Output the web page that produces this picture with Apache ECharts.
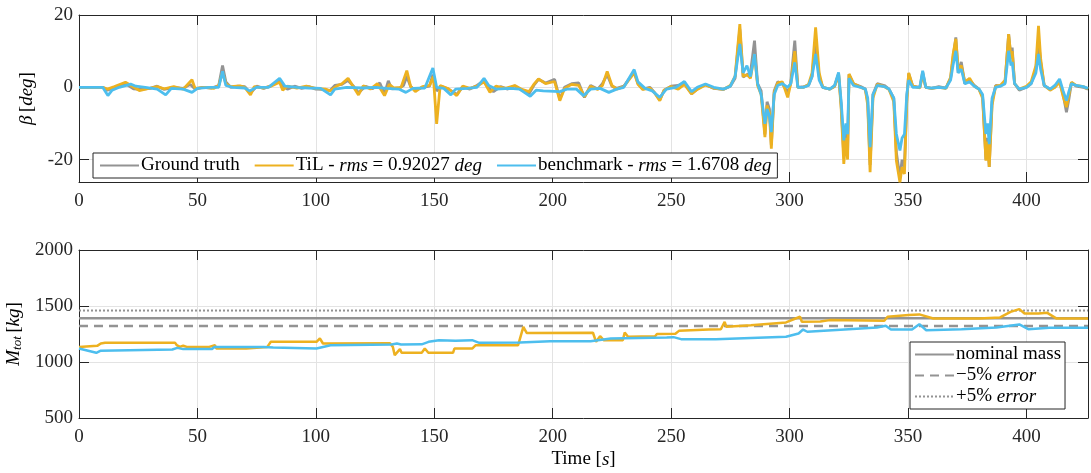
<!DOCTYPE html>
<html>
<head>
<meta charset="utf-8">
<script src="https://cdn.jsdelivr.net/npm/echarts@6/dist/echarts.min.js"></script>
<style>
html, body { margin: 0; padding: 0; background: #fff; }
#main { width: 1091px; height: 473px; }
</style>
</head>
<body>
<div id="main"></div>
<script>
// sideslip angle beta [deg] vs time [s]
var betaTruth = [[0,0],[10,0],[12,-0.8],[14,-0.3],[17,0.4],[20,0.8],[23,-0.4],[26,-0.6],[30,-0.3],[33,0.3],[36,-0.6],[40,0],[44,-0.3],[47,0.8],[49,-0.5],[52,0],[56,-0.2],[59,0.5],[60.6,6.0],[62,1.5],[64,0],[67,0.3],[70,0.2],[72.4,-1.6],[75,0.3],[78,-0.3],[81,0.4],[84.7,2.0],[86,0.5],[88,-0.5],[91,0.3],[94,-0.3],[97,0.2],[100,-0.5],[103,-0.6],[106,-0.9],[108,0.5],[111,0.8],[113.6,1.9],[116,0.2],[118,-1.5],[121,0.3],[124,-0.4],[127,1.2],[129,-1.8],[130.6,1.8],[132,-0.4],[135,-0.3],[137,0.5],[138.4,3.0],[140,0.2],[142,-0.8],[145,0],[148,0.3],[149.4,3.5],[151,-1.0],[153,0.3],[156,-0.5],[159.5,-2.0],[162,0.2],[165,-0.5],[168,0.5],[171,1.8],[173,-0.2],[175,-1.2],[178,0.2],[181,-0.5],[184,0.4],[187,-0.8],[190,-1.8],[192,0.5],[194,2.2],[197,1.2],[200.8,2.2],[203,-3.3],[205,0],[208,1.0],[211,1.2],[213.4,-2.8],[216,0.5],[219,-0.5],[221,1.0],[223,3.5],[225,0.3],[227,-0.3],[230,0.3],[234.4,4.3],[236,1],[238,-0.5],[241,0],[243,-1.5],[245.2,-3.5],[247,-0.8],[250,0.3],[253,0.5],[255.6,1.3],[258.6,-1.8],[261,-0.5],[264.5,0.8],[268,-0.3],[272,-0.6],[275,0.3],[277,2.5],[279,16],[280.4,2.8],[282,3.5],[283.5,4],[285.2,12.9],[286.5,1],[288,-1],[289.6,-13],[290.5,-4],[291.5,-6],[292.3,-16],[293.5,-1],[295,1.5],[297,1],[299.2,-1.5],[300.5,1.2],[302.2,12.9],[303.5,0],[306,0.2],[308,0.5],[309.5,3],[311,12.9],[312.5,3],[314,0],[317,-0.5],[319,0.2],[320.7,3.8],[321.8,-5],[322.9,-19],[323.8,-12],[324.5,-18],[325.1,3.5],[327,1],[330,0.2],[332,-0.5],[333,-4],[334,-21.5],[335.2,-2],[337,1],[340,0.5],[342,-0.5],[344,-3],[345.1,-18],[346.6,-25],[347.5,-20],[348.5,-22],[349.5,-3],[350.3,3.8],[352,0.3],[355,0],[356.2,4.2],[357.5,0],[360,-0.3],[363,0.2],[366,-0.2],[368,2.5],[369,8],[370.2,13.8],[371.2,4],[372.5,7],[374,1],[376,2],[378,0.5],[380,-0.5],[381.5,-2.5],[382.9,-20],[383.6,-14],[384.3,-22],[385.5,-4],[387,0.5],[389,0.3],[391,1.5],[392.5,14.7],[393.5,8],[394,11],[395,1],[397,-0.8],[400,0],[402,1],[404,5],[405.1,13],[406,7],[407.5,0.5],[410,-0.5],[412,0],[414,1.8],[415.5,-2],[416.9,-6.9],[418,-3],[419,1.2],[421,0.3],[424,0],[426,-0.5]];

var betaTil = [[0,0],[10,0],[12,-0.5],[15,0.2],[19.6,1.4],[22,0.5],[25.5,-0.9],[29,-0.4],[33,0.2],[36,-0.4],[40,0.2],[44,-0.5],[47.7,2.1],[49,-0.3],[53,0],[57,-0.3],[59,0.5],[60.6,4.1],[62,1],[64,0.2],[68,0.4],[70,0],[72.4,-2.1],[74,0.2],[78,-0.2],[81,0.3],[84.7,1.4],[86,-0.8],[88,0.3],[92,-0.2],[96,0.3],[100,-0.3],[104,-0.5],[106,-1],[109,0.4],[111,1],[113.6,2.5],[115.5,0.5],[118,-2.1],[120,0.4],[123,-0.5],[126,1],[129,-2.3],[131,0.8],[133,-0.2],[136,0],[138.4,4.6],[140,0.3],[142,-1.2],[145,0.2],[148,0.5],[149.6,3],[151,-10.1],[152.5,0.5],[156,-0.4],[159.5,-2.3],[162,0.3],[165,-0.3],[168,0.3],[171,1.5],[173.5,-1.4],[176,0.3],[180,-0.3],[184,0.5],[187,-0.6],[190,-1.2],[192,0.8],[194,2.3],[197,1.0],[200.8,1.6],[203,-3.7],[205,-0.3],[208,0.8],[211,0.5],[213.4,-2.6],[216,0.3],[219,-0.6],[221,0.5],[223,4.4],[225,0.5],[227,-0.5],[230,0.2],[234.4,4.0],[236,0.8],[238,-0.6],[241,-0.2],[243,-1.5],[245.2,-3.7],[247,-0.8],[250,0.2],[253,-0.5],[255.6,0.8],[258.6,-1.8],[261,-0.6],[264.5,0.6],[268,-0.2],[272,-0.6],[275,0.5],[277,3],[279,17.5],[280.4,3],[282,3.5],[283.5,2.5],[285.2,9.2],[286.5,0.5],[288,-2],[289.6,-13.8],[290.5,-5],[291.5,-7],[292.3,-17],[293.5,-1.5],[295,1.2],[297,1.5],[299.2,-2.8],[300.5,1],[302.2,10],[303.5,0],[306,0],[308,0.8],[309.5,4],[311,16.6],[312.5,4],[314,0],[317,-0.5],[319,0.3],[320.7,3.7],[321.8,-6],[322.9,-21.2],[323.8,-14],[324.5,-20],[325.1,3.7],[327,1],[330,0],[332,-0.6],[333,-5],[334,-23.5],[335.2,-3],[337,0.8],[340,0.2],[342,-0.6],[344,-4],[345.1,-20.3],[346.6,-26.3],[347.5,-22],[348.5,-24],[349.5,-4],[350.3,4],[352,0.3],[355,-0.2],[356.2,3.5],[357.5,0],[360,-0.3],[363,0],[366,-0.3],[368,2.8],[369,9],[370.2,13.4],[371.2,5],[372.5,6],[374,1.5],[376,2.5],[378,0.3],[380,-0.6],[381.5,-3],[382.9,-20.3],[383.6,-15],[384.3,-22],[385.5,-5],[387,0.3],[389,0.5],[391,2],[392.5,14.7],[393.5,8],[394,10],[395,1],[397,-0.5],[400,0.3],[402,1.5],[404,6],[405.1,17],[406,8],[407.5,0.5],[410,-0.8],[412,0],[414,1.4],[415.5,-2.5],[416.9,-5.5],[418,-2],[419,1.4],[421,0.5],[424,0.2],[426,-0.5]];

var betaBench = [[0,0],[10,0],[12.2,-2.3],[14,-0.8],[17,0],[21.8,0.9],[24,0.3],[28,0],[33,-0.5],[36.6,-2.1],[39,-0.3],[44,-0.5],[47.7,-1.4],[50,-0.3],[55,0],[59,0],[60.6,4.4],[62,0.5],[65,0],[70,-0.2],[72,-1],[75,0],[80,0],[84.7,2.5],[87,0.3],[92,0],[97,-0.2],[102,-0.3],[106.2,-2.1],[108,-0.5],[113,0],[120,-0.2],[125,0],[130,-0.3],[135,-0.5],[138,-1.4],[141,-0.3],[146,-0.2],[149.4,5.3],[151,0],[154,-0.3],[157,-2.1],[159,-0.5],[164,-0.3],[168,0],[171,2.5],[173,0.5],[176,-0.5],[182,-0.3],[186,-0.5],[190.5,-2.5],[193,-0.8],[196,-1],[203,-1.2],[206,-0.5],[210,-0.5],[213,-2.3],[216,-0.5],[220,-0.3],[223.7,-1.4],[227,-0.5],[230,0],[234.4,4.9],[236,1.5],[239,-0.3],[242,-1],[245.2,-2.8],[248,-0.5],[252,0],[255.6,1.6],[258.6,-1.2],[261,0],[264.5,0.9],[268,0],[272,-0.5],[275,0.3],[277,3],[279,12],[280.4,4],[282,6],[283.5,3],[285.2,9.2],[286.5,1],[288,-2],[289.6,-10.1],[290.5,-6],[291.5,-8],[292.3,-12.4],[293.5,-2],[295,0.5],[297,1],[299.2,0],[300.5,1],[302.2,6.9],[303.5,0],[306,0],[308,0.5],[309.5,3],[311,9.2],[312.5,2],[314,0],[317,-0.5],[319,0.5],[320.7,4.1],[321.8,-4],[322.9,-14.7],[323.8,-10],[324.5,-13],[325.1,2.5],[327,0.5],[330,0],[332,-0.5],[333,-3],[334,-16.6],[335.2,-2],[337,0.5],[340,0.2],[342,-0.5],[344,-3],[345.1,-12.9],[346.6,-17.5],[347.5,-14],[348.5,-13],[349.5,-2],[350.3,2],[352,0],[355,0],[356.2,4.6],[357.5,0],[360,-0.2],[363,0],[366,-0.2],[368,2],[369,6],[370.2,10.1],[371.2,4],[372.5,5],[374,1],[376,1.5],[378,0.3],[380,-0.5],[381.5,-2],[382.9,-12.9],[383.6,-10],[384.3,-15.7],[385.5,-3],[387,0],[389,0.3],[391,1],[392.5,10.1],[393.5,6],[394,7],[395,1],[397,-0.5],[400,0],[402,1],[404,4],[405.1,9.2],[406,5],[407.5,0.5],[410,-0.5],[412,0.5],[414,2.3],[415.5,-1],[416.9,-3.7],[418,-1],[419,1],[421,0.5],[424,0.2],[426,-0.3]];

// total mass estimate [kg] vs time [s]
var massTil = [[0,1135],[7.7,1144],[9.2,1165],[11,1171],[40.6,1171],[41.3,1150],[42.5,1135],[44,1145],[45.5,1135],[55,1135],[57.4,1150],[58,1120],[70.6,1120],[71,1135],[79.5,1135],[81,1180],[100.3,1180],[101.7,1210],[103,1165],[131.3,1168],[132.5,1135],[133.3,1061],[135.5,1115],[136.2,1082],[144.7,1082],[146,1120],[147.5,1082],[157.9,1082],[158.5,1120],[166,1120],[167.5,1150],[185.4,1150],[187.6,1314],[189,1260],[217,1261],[218.3,1180],[220,1231],[221.5,1195],[229.6,1195],[230.4,1264],[231.8,1225],[243.2,1230],[244,1249],[251.8,1252],[253.3,1278],[265.9,1290],[271,1292],[272.6,1359],[273.3,1314],[283.7,1329],[298.5,1353],[304.4,1404],[305.2,1359],[313,1362],[316.9,1374],[317.6,1359],[340,1368],[341.4,1404],[350.3,1419],[354.8,1425],[360.7,1389],[380,1389],[388.9,1398],[393.3,1448],[397,1472],[399.2,1433],[405.1,1433],[408.8,1439],[412.6,1389],[426,1389]];

var massBench = [[0,1120],[7.3,1082],[9,1100],[39.4,1112],[41.5,1126],[44,1115],[56,1115],[57.3,1135],[78,1135],[82,1130],[100.3,1120],[106.2,1150],[132,1156],[134.2,1165],[136,1156],[144.7,1158],[147.6,1180],[152,1195],[159,1190],[166,1195],[169,1171],[186.1,1174],[199,1186],[216,1186],[224.5,1210],[248.1,1219],[251,1222],[254.2,1204],[268.9,1204],[298.5,1225],[303.8,1255],[305.7,1290],[307.5,1270],[325,1293],[336.9,1308],[340.6,1323],[342.8,1290],[351.7,1290],[354.8,1338],[357.7,1284],[372.6,1293],[387.4,1308],[397,1335],[400.8,1293],[409.7,1305],[426,1305]];

var massNominal = 1390;
var massMinus5 = 1320.5;
var massPlus5 = 1459.5;
var timeEnd = 426;
var betaTicks = [-20, 0, 20];

var FONT = 'Liberation Serif';
var AX = '#262626';
var GRIDC = '#e3e3e3';
var GRAY = '#939393';
var ORANGE = '#EDB120';
var BLUE = '#4DBEEE';

var Chart = echarts.init(document.getElementById('main'));

function hLine(v) { return [[0, v], [timeEnd, v]]; }

var rich = {
    n: { fontFamily: FONT, fontSize: 19, color: '#000' },
    i: { fontFamily: FONT, fontSize: 19, fontStyle: 'italic', color: '#000' },
    s: { fontFamily: FONT, fontSize: 13, fontStyle: 'italic', color: '#000', verticalAlign: 'bottom', padding: [8, 0, 0, 0] }
};

var legendText = {
    'Ground truth': '{n|Ground truth}',
    'TiL': '{n|TiL - }{i|rms}{n| = 0.92027 }{i|deg}',
    'benchmark': '{n|benchmark - }{i|rms}{n| = 1.6708 }{i|deg}',
    'nominal mass': '{n|nominal mass}',
    'minus': '{n|\u22125% }{i|error}',
    'plus': '{n|+5% }{i|error}'
};

function xAx(grid, name) {
    return {
        type: 'value', gridIndex: grid, min: 0, max: timeEnd, interval: 50,
        name: name || '', nameLocation: 'middle', nameGap: 32,
        nameTextStyle: { rich: rich },
        axisLine: { onZero: false, lineStyle: { color: AX, width: 1 } },
        axisTick: { inside: true, length: 10, lineStyle: { color: AX } },
        axisLabel: { fontFamily: FONT, fontSize: 19, color: '#262626', margin: 10, showMaxLabel: false },
        splitLine: { show: true, lineStyle: { color: GRIDC } }
    };
}
function xTop(grid) {
    return {
        type: 'value', gridIndex: grid, min: 0, max: timeEnd, interval: 50, position: 'top',
        axisLine: { onZero: false, lineStyle: { color: AX } },
        axisTick: { inside: true, length: 10, lineStyle: { color: AX } },
        axisLabel: { show: false }, splitLine: { show: false }
    };
}

var legendBox = {
    itemWidth: 39, itemHeight: 12,
    backgroundColor: '#fff', borderColor: AX, borderWidth: 1, borderRadius: 0,
    itemStyle: { opacity: 0 },
    formatter: function (name) { return legendText[name]; },
    textStyle: { rich: rich, padding: [0, 0, 0, -3] }
};

option = {
    animation: false,
    backgroundColor: '#fff',
    grid: [
        { left: 79, top: 15, width: 1009, height: 167, outerBoundsMode: 'none', containLabel: false },
        { left: 79, top: 250, width: 1009, height: 168, outerBoundsMode: 'none', containLabel: false }
    ],
    xAxis: [xAx(0), xTop(0), xAx(1, '{n|Time [}{i|s}{n|]}'), xTop(1)],
    yAxis: [
        {
            type: 'value', gridIndex: 0, min: -26.2, max: 20,
            name: '{i|\u03b2} {n|[}{i|deg}{n|]}', nameLocation: 'middle', nameGap: 40,
            nameTextStyle: { rich: rich },
            axisLine: { onZero: false, lineStyle: { color: AX } },
            axisTick: { inside: true, length: 10, lineStyle: { color: AX }, customValues: betaTicks },
            axisLabel: { fontFamily: FONT, fontSize: 19, color: '#262626', margin: 6, customValues: betaTicks },
            splitLine: { show: true, lineStyle: { color: GRIDC } }
        },
        {
            type: 'value', gridIndex: 0, min: -26.2, max: 20, position: 'right',
            axisLine: { onZero: false, lineStyle: { color: AX } },
            axisTick: { inside: true, length: 10, lineStyle: { color: AX }, customValues: betaTicks },
            axisLabel: { show: false }, splitLine: { show: false }
        },
        {
            type: 'value', gridIndex: 1, min: 500, max: 2000, interval: 500,
            name: '{i|M}{s|tot} {n|[}{i|kg}{n|]}', nameLocation: 'middle', nameGap: 52,
            nameTextStyle: { rich: rich },
            axisLine: { onZero: false, lineStyle: { color: AX } },
            axisTick: { inside: true, length: 10, lineStyle: { color: AX } },
            axisLabel: { fontFamily: FONT, fontSize: 19, color: '#262626', margin: 6, formatter: function (v) { return String(v); } },
            splitLine: { show: true, lineStyle: { color: GRIDC } }
        },
        {
            type: 'value', gridIndex: 1, min: 500, max: 2000, interval: 500, position: 'right',
            axisLine: { onZero: false, lineStyle: { color: AX } },
            axisTick: { inside: true, length: 10, lineStyle: { color: AX } },
            axisLabel: { show: false }, splitLine: { show: false }
        }
    ],
    legend: [
        echarts.util.merge({
            data: ['Ground truth', 'TiL', 'benchmark'],
            left: 93, top: 153, padding: [3, 6], itemGap: 14
        }, legendBox),
        echarts.util.merge({
            data: ['nominal mass', 'minus', 'plus'],
            orient: 'vertical',
            left: 910, top: 342, padding: [3, 4], itemGap: 2
        }, legendBox)
    ],
    series: [
        { name: 'Ground truth', type: 'line', xAxisIndex: 0, yAxisIndex: 0, data: betaTruth, symbol: 'none', lineStyle: { color: GRAY, width: 2.8 }, itemStyle: { color: GRAY } },
        { name: 'TiL', type: 'line', xAxisIndex: 0, yAxisIndex: 0, data: betaTil, symbol: 'none', lineStyle: { color: ORANGE, width: 2.8 }, itemStyle: { color: ORANGE } },
        { name: 'benchmark', type: 'line', xAxisIndex: 0, yAxisIndex: 0, data: betaBench, symbol: 'none', lineStyle: { color: BLUE, width: 2.8 }, itemStyle: { color: BLUE } },
        { name: 'plus', type: 'line', xAxisIndex: 2, yAxisIndex: 2, data: hLine(massPlus5), symbol: 'none', lineStyle: { color: GRAY, width: 2, type: [2, 2] }, itemStyle: { color: GRAY } },
        { name: 'nominal mass', type: 'line', xAxisIndex: 2, yAxisIndex: 2, data: hLine(massNominal), symbol: 'none', lineStyle: { color: GRAY, width: 2.5 }, itemStyle: { color: GRAY } },
        { name: 'minus', type: 'line', xAxisIndex: 2, yAxisIndex: 2, data: hLine(massMinus5), symbol: 'none', lineStyle: { color: GRAY, width: 2.5, type: [9, 6] }, itemStyle: { color: GRAY } },
        { name: 'TiL ', type: 'line', xAxisIndex: 2, yAxisIndex: 2, data: massTil, symbol: 'none', lineStyle: { color: ORANGE, width: 2.5 }, itemStyle: { color: ORANGE } },
        { name: 'benchmark ', type: 'line', xAxisIndex: 2, yAxisIndex: 2, data: massBench, symbol: 'none', lineStyle: { color: BLUE, width: 2.5 }, itemStyle: { color: BLUE } }
    ]
};
Chart.setOption(option);
</script>
</body>
</html>
